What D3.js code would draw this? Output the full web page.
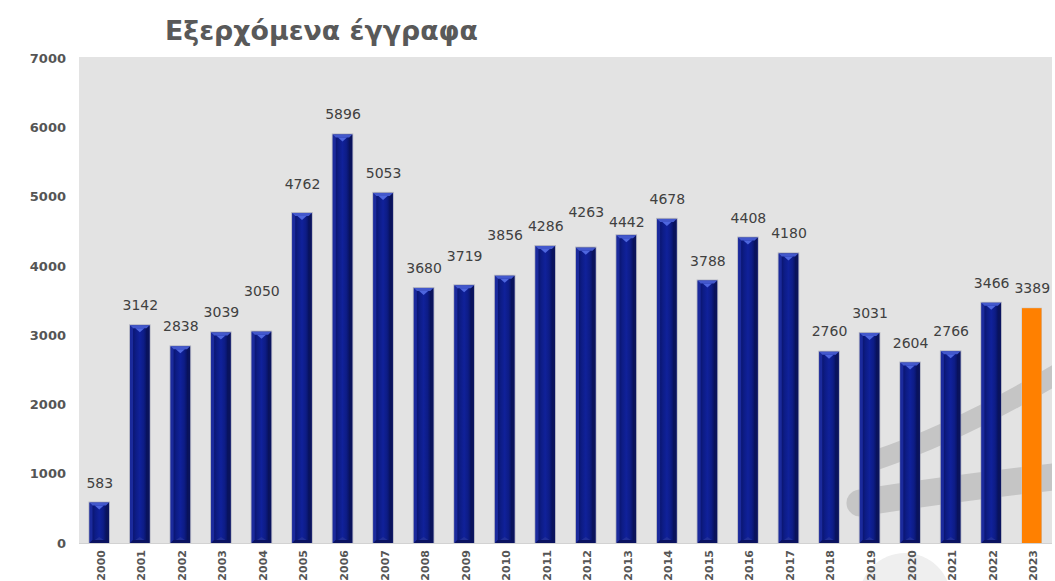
<!DOCTYPE html>
<html>
<head>
<meta charset="utf-8">
<script src="https://cdn.jsdelivr.net/npm/d3@7"></script>
<style>
html,body{margin:0;padding:0;background:#fff;}
svg{display:block;}
</style>
</head>
<body>
<svg id="chart" width="1055" height="581"></svg>
<script>
const title = "Εξερχόμενα έγγραφα";
const years = ["2000","2001","2002","2003","2004","2005","2006","2007","2008","2009","2010","2011","2012","2013","2014","2015","2016","2017","2018","2019","2020","2021","2022","2023"];
const values = [583,3142,2838,3039,3050,4762,5896,5053,3680,3719,3856,4286,4263,4442,4678,3788,4408,4180,2760,3031,2604,2766,3466,3389];
const highlightYears = ["2023"];
const yTicks = [0,1000,2000,3000,4000,5000,6000,7000];
// extra lift (px) of a few value labels, as placed in the original
const labelNudge = [0,0,0,0,21,9,0,0,0,9,21,0,16,-7,0,0,0,0,1,0,0,0,0,0];

const svg = d3.select("#chart");
const plot = {left:79, right:1052, top:57, bottom:543};

const x = d3.scaleBand().domain(years).range([plot.left, plot.right]).paddingInner(0.52).paddingOuter(0.26);
const y = d3.scaleLinear().domain([0,7000]).range([543, 58]);

const defs = svg.append("defs");
const g = defs.append("linearGradient").attr("id","barGrad").attr("x1","0").attr("x2","1").attr("y1","0").attr("y2","0");
[[0,"#1e2c9e"],[0.14,"#0a1570"],[0.3,"#0d1c86"],[0.5,"#10219a"],[0.7,"#0d1c86"],[0.86,"#08125f"],[1,"#141f80"]].forEach(([o,c])=>g.append("stop").attr("offset",o).attr("stop-color",c));
defs.append("clipPath").attr("id","plotClip").append("rect")
  .attr("x",plot.left).attr("y",plot.top).attr("width",plot.right-plot.left).attr("height",plot.bottom-plot.top);

// decorative circle below axis
svg.append("circle").attr("cx",905).attr("cy",599).attr("r",46).attr("fill","#efefef");

// plot background
svg.append("rect").attr("x",plot.left).attr("y",plot.top).attr("width",plot.right-plot.left).attr("height",plot.bottom-plot.top).attr("fill","#e3e3e3");
svg.append("line").attr("x1",plot.left).attr("x2",plot.right).attr("y1",543.5).attr("y2",543.5).attr("stroke","#d2d2d2");

// swooshes
const sw = svg.append("g").attr("clip-path","url(#plotClip)");
sw.append("path").attr("d","M876,460 Q965,430 1070,366").attr("fill","none").attr("stroke","#c5c5c5").attr("stroke-width",20).attr("stroke-linecap","round");
sw.append("path").attr("d","M860,503 Q940,490 1070,475").attr("fill","none").attr("stroke","#c5c5c5").attr("stroke-width",27).attr("stroke-linecap","round");

// title
svg.append("text").attr("x",165).attr("y",40).text(title)
  .attr("font-family","DejaVu Sans").attr("font-weight","bold").attr("font-size",26.8).attr("fill","#595959");

// y axis labels
svg.append("g").selectAll("text").data(yTicks).join("text")
  .attr("x",66).attr("y",d=>y(d)).attr("dy","0.36em").attr("text-anchor","end")
  .attr("font-family","DejaVu Sans").attr("font-weight","bold").attr("font-size",13).attr("fill","#555")
  .text(d=>d);

// x axis labels
svg.append("g").selectAll("text").data(years).join("text")
  .attr("transform",d=>`translate(${x(d)+x.bandwidth()/2+1.5},550) rotate(-90)`)
  .attr("dy","0.36em").attr("text-anchor","end")
  .attr("font-family","DejaVu Sans").attr("font-weight","bold").attr("font-size",11).attr("fill","#555")
  .text(d=>d);

// bars
const data = years.map((yr,i)=>({year:yr, value:values[i], nudge:labelNudge[i]}));
const bw = x.bandwidth();
const bars = svg.append("g").selectAll("g").data(data).join("g");
bars.each(function(d){
  const gg = d3.select(this);
  const x0 = x(d.year), y0 = y(d.value), y1 = y(0), w = bw, h = y1 - y0, cx = x0 + w/2;
  if (highlightYears.includes(d.year)) {
    gg.append("rect").attr("x",x0-0.5).attr("y",y0-0.5).attr("width",w+1).attr("height",h+0.5).attr("fill","#c8c8c8");
    gg.append("rect").attr("x",x0).attr("y",y0).attr("width",w).attr("height",h).attr("fill","#ff8000");
    return;
  }
  gg.append("rect").attr("x",x0-1).attr("y",y0-1).attr("width",w+2).attr("height",h+1).attr("fill","#9a9cb0").attr("opacity",0.7);
  gg.append("rect").attr("x",x0).attr("y",y0).attr("width",w).attr("height",h).attr("fill","url(#barGrad)");
  const b = 3;
  gg.append("polygon").attr("points",`${x0},${y0} ${x0+b},${y0+b} ${x0+b},${y1-b} ${x0},${y1}`).attr("fill","#1b2a9c");
  gg.append("polygon").attr("points",`${x0+w},${y0} ${x0+w-b},${y0+b} ${x0+w-b},${y1-b} ${x0+w},${y1}`).attr("fill","#0a135c");
  gg.append("polygon").attr("points",`${x0},${y0} ${x0+w},${y0} ${x0+w-b},${y0+b} ${x0+b},${y0+b}`).attr("fill","#4358cc");
  gg.append("polygon").attr("points",`${x0},${y1} ${x0+w},${y1} ${x0+w-b},${y1-b} ${x0+b},${y1-b}`).attr("fill","#0a1260");
  gg.append("polygon").attr("points",`${cx-4.5},${y0+b} ${cx+4.5},${y0+b} ${cx},${y0+b+4}`).attr("fill","#4e66de");
  gg.append("polygon").attr("points",`${cx-4.5},${y1-b} ${cx+4.5},${y1-b} ${cx},${y1-b-3}`).attr("fill","#25339a").attr("opacity",0.8);
});

// value labels
svg.append("g").selectAll("text").data(data).join("text")
  .attr("x",d=>x(d.year)+bw/2+0.5).attr("y",d=>y(d.value)-15-d.nudge).attr("text-anchor","middle")
  .attr("font-family","DejaVu Sans").attr("font-size",14).attr("fill","#404040")
  .text(d=>d.value);
</script>
</body>
</html>
